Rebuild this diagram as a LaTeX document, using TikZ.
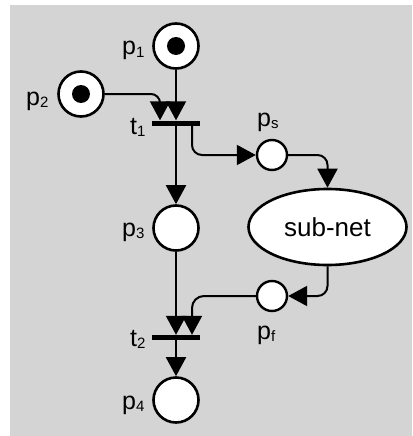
\documentclass[tikz,border=0pt]{standalone}
\usepackage{fontspec}
\setmainfont{Liberation Sans}
\usetikzlibrary{arrows.meta,shapes.geometric,calc}
\definecolor{bg}{RGB}{212,212,212}
\newcommand{\mysub}[1]{\raisebox{-2pt}{\fontsize{15}{15}\selectfont #1}}
\begin{document}
\begin{tikzpicture}[x=1pt,y=-1pt,
 place/.style={circle,draw,fill=white,line width=2.6pt,minimum size=45pt,inner sep=0pt},
 smallplace/.style={circle,draw,fill=white,line width=2.4pt,minimum size=30pt,inner sep=0pt},
 token/.style={circle,fill=black,minimum size=18pt,inner sep=0pt},
 trans/.style={rectangle,fill=black,minimum width=48pt,minimum height=5pt,inner sep=0pt},
 arc/.style={line width=2pt,-{Triangle[length=19pt,width=20pt]}},
 lbl/.style={font=\fontsize{25}{25}\selectfont,inner sep=0pt,anchor=base west}]
\useasboundingbox (0,0) rectangle (412,436);
\fill[bg] (10,5) rectangle (412,436);

% places
\node[place] (p1) at (176,46) {};
\node[token] (k1) at (p1) {};
\node[place] (p2) at (81,94) {};
\node[token] (k2) at (p2) {};
\node[place] (p3) at (176,228) {};
\node[place] (p4) at (176,400) {};
\node[smallplace] (ps) at (272,155) {};
\node[smallplace] (pf) at (272,296) {};
\node[ellipse,draw,fill=white,line width=2.6pt,minimum width=158pt,minimum height=76pt,inner sep=0pt,
  font=\fontsize{26}{26}\selectfont] (sn) at (327.5,227) {sub-net};

% transitions
\node[trans] (t1) at (176,123) {};
\node[trans] (t2) at (176,337.5) {};

% labels
\node[lbl] (l1) at (122,55) {p\mysub{1}};
\node[lbl] (l2) at (26,105) {p\mysub{2}};
\node[lbl] (lt1) at (130,134) {t\mysub{1}};
\node[lbl] (ls) at (257,126) {p\mysub{s}};
\node[lbl] (l3) at (122,236) {p\mysub{3}};
\node[lbl] (lf) at (257,339) {p\mysub{f}};
\node[lbl] (lt2) at (130,346) {t\mysub{2}};
\node[lbl] (l4) at (122,409) {p\mysub{4}};

% arcs
\draw[arc] (p1.south) -- (p1.south |- t1.north);
\draw[arc,rounded corners=9pt] (p2.east) -| ($(t1.north)+(-16,0)$);
\draw[arc,rounded corners=10pt] ($(t1.south)+(16,0)$) |- (ps.west);
\draw[arc,rounded corners=10pt] (ps.east) -| (sn.north);
\draw[arc] (t1.south) -- (p3.north);
\draw[arc,rounded corners=10pt] (sn.south) |- (pf.east);
\draw[arc,rounded corners=12pt] (pf.west) -| ($(t2.north)+(16,0)$);
\draw[arc] (p3.south) -- (p3.south |- t2.north);
\draw[arc] (t2.south) -- (p4.north);
\end{tikzpicture}
\end{document}
